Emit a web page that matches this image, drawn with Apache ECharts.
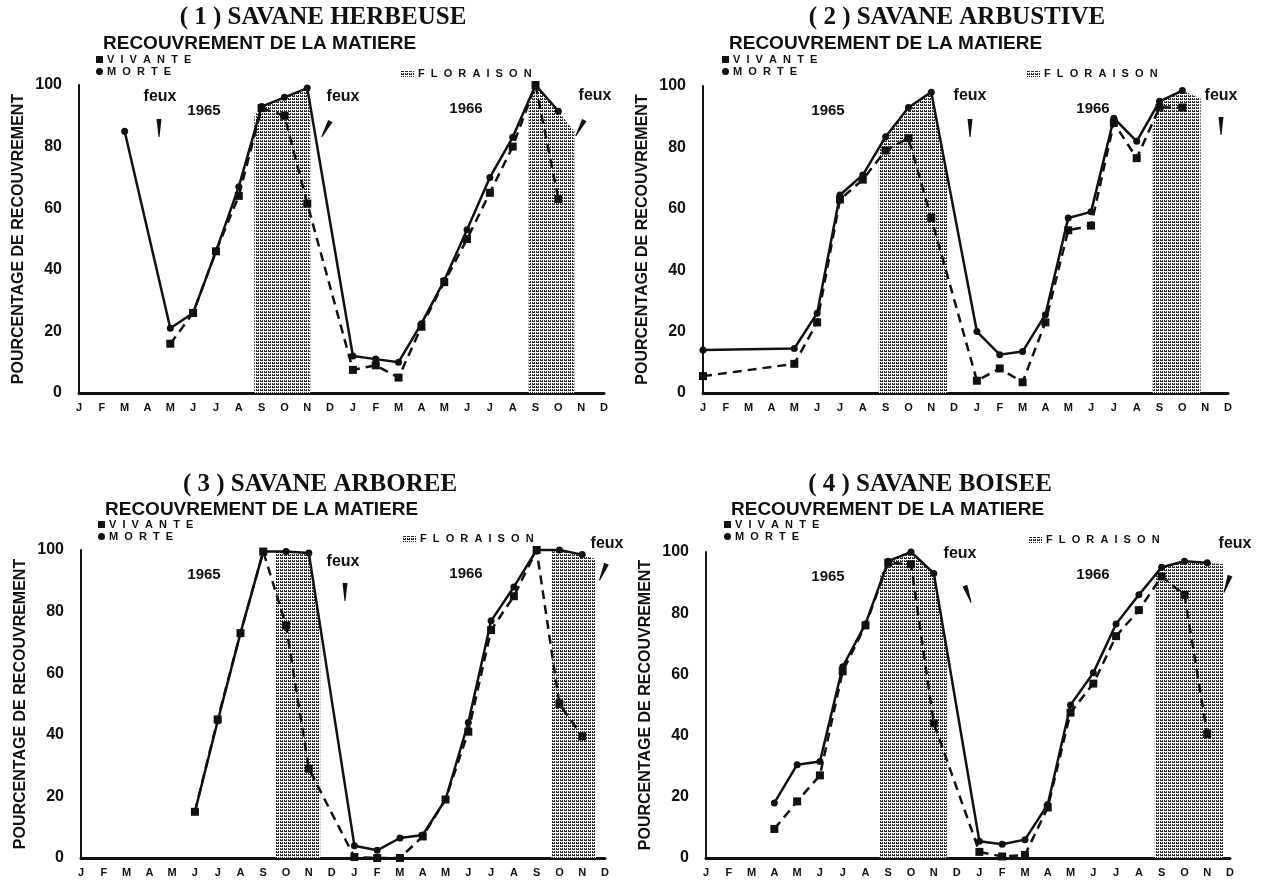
<!DOCTYPE html>
<html>
<head>
<meta charset="utf-8">
<script src="https://cdn.jsdelivr.net/npm/echarts/dist/echarts.min.js"></script>
<style>
  html, body { margin: 0; padding: 0; background: #fff; }
  #main { width: 1262px; height: 881px; }
</style>
</head>
<body>
<div id="main"></div>
<script>
// mois sur deux ans (1965 - 1966)
var months = ['J','F','M','A','M','J','J','A','S','O','N','D','J','F','M','A','M','J','J','A','S','O','N','D'];
var yTicks = [0, 20, 40, 60, 80, 100];
var panelTitles = ['( 1 ) SAVANE HERBEUSE', '( 2 ) SAVANE ARBUSTIVE', '( 3 ) SAVANE ARBOREE', '( 4 ) SAVANE BOISEE'];

// (1) savane herbeuse
var herbVivante = [null,null,null,null,16,26,46,64,92.5,90,61.5,null,7.5,9,5,21.5,36,50,65,80,100,63,null,null];
var herbMorte   = [null,null,85,null,21,26,46,67,93,96,99,null,12,11,10,22.5,36.5,53,70,83,100,91.5,null,null];
var herbFlor65  = [[7.68,90],[8,93],[9,96],[10,99],[10.13,95]];
var herbFlor66  = [[19.7,94],[20,100],[21,91.5],[21.7,85]];

// (2) savane arbustive
var arbuVivante = [5.5,null,null,null,9.5,23,63,69.5,79,83,57,null,4,8,3.5,23,53,54.5,88,76.5,93,93,null,null];
var arbuMorte   = [14,null,null,null,14.5,26,64.5,71,83.5,93,98,null,20,12.5,13.5,25.5,57,59,89.5,82,95,98.5,null,null];
var arbuFlor65  = [[7.7,80],[8,83.5],[9,93],[10,98],[10.7,72]];
var arbuFlor66  = [[19.7,86],[20,95],[21,98.5],[21.8,96]];

// (3) savane arboree
var arboVivante = [null,null,null,null,null,15,45,73,99.5,75.5,29,null,0.3,0,0,7,19,41,74,85,100,50,39.5,null];
var arboMorte   = [null,null,null,null,null,15,44.5,73,99.5,99.5,99,null,4,2.5,6.5,7.5,19,44,77,88,100,100,98.5,null];
var arboFlor65  = [[8.55,99.5],[9,99.5],[10,99],[10.5,76]];
var arboFlor66  = [[20.65,100],[21,100],[22,98.5],[22.6,97]];

// (4) savane boisee
var boisVivante = [null,null,null,9.5,18.5,27,61,76,96.5,96,44,null,2,0.5,1,16.5,47.5,57,72.5,81,92,86,40.5,null];
var boisMorte   = [null,null,null,18,30.5,31.5,62.5,76.5,97,100,93,null,5.5,4.5,6,17.5,50,60.5,76.5,86,95,97,96.5,null];
var boisFlor65  = [[7.63,92],[8,97],[9,100],[10,93],[10.57,70]];
var boisFlor66  = [[19.7,92],[20,95],[21,97],[22,96.5],[22.7,96]];

var ink = '#111';

function pairs(arr) {
  var out = [];
  arr.forEach(function (v, i) { if (v !== null) out.push([i, v]); });
  return out;
}

// trame de la floraison
function makePattern() {
  var c = document.createElement('canvas');
  c.width = 4; c.height = 3;
  var g = c.getContext('2d');
  g.fillStyle = '#fff'; g.fillRect(0, 0, 4, 3);
  g.fillStyle = '#2a2a2a';
  g.fillRect(0, 0, 3, 1);
  g.fillRect(0, 2, 1, 1);
  g.fillRect(2, 2, 1, 1);
  return c;
}
var trame = { image: makePattern(), repeat: 'repeat' };

var grids = [
  { left: 79,  top: 85,  width: 525, height: 308 },
  { left: 703, top: 86,  width: 525, height: 307 },
  { left: 81,  top: 550, width: 524, height: 308 },
  { left: 706, top: 552, width: 524, height: 306 }
];
var panels = [
  [herbVivante, herbMorte, herbFlor65, herbFlor66],
  [arbuVivante, arbuMorte, arbuFlor65, arbuFlor66],
  [arboVivante, arboMorte, arboFlor65, arboFlor66],
  [boisVivante, boisMorte, boisFlor65, boisFlor66]
];

var xAxes = [], yAxes = [], series = [], legends = [];
grids.forEach(function (g, k) {
  xAxes.push({
    gridIndex: k, type: 'value', min: 0, max: 23, interval: 1,
    axisLine: { show: true, lineStyle: { color: ink, width: 3 } },
    axisTick: { show: false },
    splitLine: { show: false },
    axisLabel: {
      margin: 9, color: ink, fontSize: 11, fontWeight: 'bold', fontFamily: 'Liberation Sans',
      formatter: function (v) { return months[v]; }
    }
  });
  yAxes.push({
    gridIndex: k, type: 'value', min: yTicks[0], max: yTicks[yTicks.length - 1], interval: 20,
    axisLine: { show: true, lineStyle: { color: ink, width: 2 } },
    axisTick: { show: false },
    splitLine: { show: false },
    axisLabel: { margin: 17, color: ink, fontSize: 16, fontWeight: 'bold', fontFamily: 'Liberation Sans' },
    name: 'POURCENTAGE DE RECOUVREMENT',
    nameLocation: 'middle',
    nameGap: 52,
    nameTextStyle: { color: ink, fontSize: 16, fontWeight: 'bold', fontFamily: 'Liberation Sans' }
  });
  var p = panels[k];
  [p[2], p[3]].forEach(function (fl) {
    series.push({
      name: 'FLORAISON', type: 'line', xAxisIndex: k, yAxisIndex: k,
      data: fl, symbol: 'none', silent: true,
      lineStyle: { width: 0 },
      areaStyle: { color: trame, opacity: 1 },
      z: 1
    });
  });
  series.push({
    name: 'VIVANTE', type: 'line', xAxisIndex: k, yAxisIndex: k,
    data: pairs(p[0]), symbol: 'rect', symbolSize: 8, clip: false,
    itemStyle: { color: ink },
    lineStyle: { color: ink, width: 2.5, type: [9, 6] },
    z: 3
  });
  series.push({
    name: 'MORTE', type: 'line', xAxisIndex: k, yAxisIndex: k,
    data: pairs(p[1]), symbol: 'circle', symbolSize: 7, clip: false,
    itemStyle: { color: ink },
    lineStyle: { color: ink, width: 2.5 },
    z: 4
  });
});

var legendPos = [[96, 54], [722, 54], [98, 519], [724, 519]];
legendPos.forEach(function (pos) {
  legends.push({
    left: pos[0], top: pos[1], orient: 'vertical', itemGap: 1,
    itemWidth: 7, itemHeight: 7, padding: 0,
    data: [{ name: 'VIVANTE', icon: 'rect' }, { name: 'MORTE', icon: 'circle' }],
    formatter: function (n) { return n.split('').join('  '); },
    textStyle: { color: ink, fontSize: 11, fontWeight: 'bold', fontFamily: 'Liberation Sans', padding: [0, 0, 0, -1] },
    selectedMode: false
  });
});

// textes et fleches
var graphics = [];
function txt(s, x, y, size, weight, family, align) {
  graphics.push({
    type: 'text', x: x, y: y, silent: true,
    style: { text: s, fill: ink, font: weight + ' ' + size + 'px "' + family + '"',
             textAlign: align || 'center', textVerticalAlign: 'middle' }
  });
}
function arrow(x, y, rot) {
  graphics.push({
    type: 'polygon', x: x, y: y, rotation: rot, silent: true,
    shape: { points: [[-2.5, -9], [2.5, -9], [0.5, 9], [-0.5, 9]] },
    style: { fill: ink }
  });
}

var titlePos = [[323, 18], [957, 18], [320, 485], [930, 485]];
var subPos = [[103, 44], [729, 44], [105, 510], [731, 510]];
var florPos = [[401, 74], [1027, 74], [403, 539], [1029, 540]];
titlePos.forEach(function (p, k) {
  txt(panelTitles[k], p[0], p[1], 25, 'bold', 'Liberation Serif');
  txt('RECOUVREMENT DE LA MATIERE', subPos[k][0], subPos[k][1], 19, 'bold', 'Liberation Sans', 'left');
  var f = florPos[k];
  graphics.push({ type: 'rect', x: f[0], y: f[1] - 3, silent: true, shape: { width: 13, height: 6 }, style: { fill: trame } });
  txt('F  L  O  R  A  I  S  O  N', f[0] + 17, f[1], 11, 'bold', 'Liberation Sans', 'left');
});

var feux = [[160, 97], [343, 97], [595, 96], [970, 96], [1221, 96], [343, 562], [607, 544], [960, 554], [1235, 544]];
feux.forEach(function (p) { txt('feux', p[0], p[1], 16, 'bold', 'Liberation Sans'); });
var years = [[204, 111, '1965'], [466, 109, '1966'], [828, 111, '1965'], [1093, 109, '1966'],
             [204, 575, '1965'], [466, 574, '1966'], [828, 577, '1965'], [1093, 575, '1966']];
years.forEach(function (p) { txt(p[2], p[0], p[1], 15, 'bold', 'Liberation Sans'); });

arrow(159, 128, 0);
arrow(326, 129, -0.5);
arrow(580, 128, -0.5);
arrow(970, 128, 0);
arrow(1221, 126, 0);
arrow(345, 592, 0);
arrow(603, 572, -0.4);
arrow(968, 594, 0.35);
arrow(1227, 584, -0.35);

var myChart = echarts.init(document.getElementById('main'));
var option = {
  backgroundColor: '#fff',
  animation: false,
  grid: grids,
  xAxis: xAxes,
  yAxis: yAxes,
  legend: legends,
  series: series,
  graphic: graphics
};
myChart.setOption(option);
</script>
</body>
</html>
